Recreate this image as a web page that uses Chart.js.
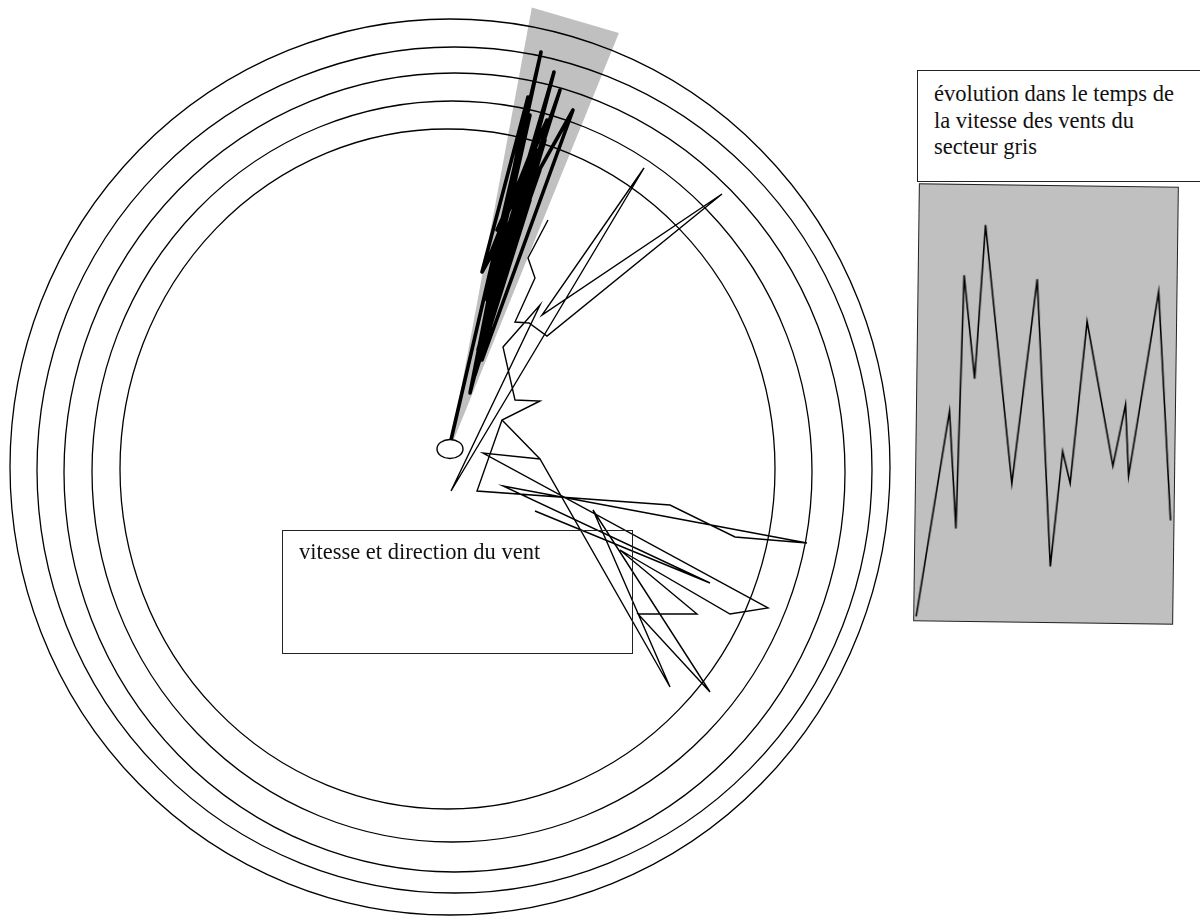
<!DOCTYPE html>
<html>
<head>
<meta charset="utf-8">
<title>vitesse et direction du vent</title>
<script src="https://cdn.jsdelivr.net/npm/chart.js"></script>
<style>
    body { margin: 0; background: #fff; width: 1200px; height: 916px; overflow: hidden; position: relative; }
    #rose { position: absolute; left: 0; top: 0; }
    .boite { position: absolute; box-sizing: border-box; border: 1.5px solid #222; font-family: "Liberation Serif", "Times New Roman", serif; font-size: 22.5px; line-height: 26.7px; color: #111; }
    #legendeRose { left: 282px; top: 530px; width: 351px; height: 124px; padding: 8px 0 0 16px; background: transparent; }
    #legendeSecteur { left: 917px; top: 70px; width: 320px; height: 112px; padding: 10px 0 0 16px; background: #fff; }
    #cadreSecteur { position: absolute; left: 916px; top: 185px; width: 260px; height: 438px; box-sizing: border-box; border: 1.5px solid #222; background: #c0c0c0; transform: rotate(0.75deg); }
    #cadreSecteur canvas { position: absolute; left: 0; top: 0; }
</style>
</head>
<body>
<canvas id="rose" width="1200" height="916"></canvas>
<div class="boite" id="legendeRose">vitesse et direction du vent</div>
<div class="boite" id="legendeSecteur">évolution dans le temps de<br>la vitesse des vents du<br>secteur gris</div>
<div id="cadreSecteur"><canvas id="courbe" width="257" height="435"></canvas></div>
<script>
"use strict";

// vent : composante est (u) et nord (v), meme unite que les cercles
let ventGrisU = [0.1, 9.1, 3.7, 10.4, 2.0, 7.8, 3.2, 12.3, 3.2, 8.7, 3.8, 9.7, 4.7, 8.3, 3.4, 9.0, 5.5, 9.5, 2.5, 8.0, 5.0, 8.5,
    3.8, 9.5, 2.8, 11.0, 4.0, 7.5, 2.2, 8.8, 4.5, 8.0];
let ventGrisV = [0.9, 39.7, 14.9, 37.7, 5.6, 35.2, 17.7, 33.9, 8.9, 31.2, 18.9, 32.9, 21.9, 28.9, 11.9, 27.9, 23.4, 30.9, 7.4, 24.9, 19.9, 26.9,
    11.9, 34.4, 9.9, 35.9, 15.9, 31.9, 6.4, 29.9, 17.9, 33.4];

let ventU = [8.5, 26.0, 5.3, 35.7, 28.5, 22.0, 2.7, 5.2, 9.0, 6.5, 5.3, 9.0, 0.1, 19.4, 9.2, 27.2, 9.7, 7.9, 6.5, 8.5, 7.8, 9.8];
let ventV = [-6.2, -13.4, -3.7, -9.4, -8.8, -5.6, -4.2, 2.9, 4.8, 4.9, 10.2, 14.4, -4.2, 28.1, 13.4, 25.5, 11.3, 12.6, 12.7, 17.1, 19.1, 22.9];

let ventSudU = [5.2, 9.0, 22.0, 14.3, 26.0, 18.8, 24.7, 17.0, 28.0, 31.8, 3.3, 9.0];
let ventSudV = [2.9, -1.0, -23.8, -6.1, -24.3, -16.5, -16.5, -10.1, -16.5, -15.9, -0.4, -1.0];

// cercles de vitesse
let cercleU = [-0.25, 0.2, 0.45, 0.45, 0.0];
let cercleV = [-2.0, -2.25, -2.35, -2.1, -1.8];
let cercleRayonU = [32.75, 36.0, 39.05, 41.75, 44.0];
let cercleRayonV = [34.0, 37.05, 39.95, 42.3, 44.8];

// secteur gris (degres depuis le nord)
let secteurDe = 10.5;
let secteurA = 22.1;
let secteurPortee = 44.9;

// evolution dans le temps du secteur gris
let temps = [0.2, 3.3, 4.1, 4.6, 5.8, 6.7, 9.7, 12.0, 13.7, 14.8, 15.6, 17.1, 19.9, 21.1, 21.5, 24.3, 25.8];
let vitesses = [0.3, 21.0, 9.2, 34.7, 24.3, 39.8, 13.8, 34.4, 5.5, 17.1, 13.9, 30.2, 15.7, 21.9, 14.7, 33.3, 10.3];

function punti(us, vs) {
    let out = [];
    for (let i = 0; i < us.length; i++)
        out.push({x: us[i], y: vs[i]});
    return out;
}

let decorRose = {
    id: "decorRose",
    beforeDatasetsDraw(chart) {
        let ctx = chart.ctx;
        let sx = chart.scales.x, sy = chart.scales.y;
        ctx.save();
        ctx.fillStyle = "#c0c0c0";
        ctx.beginPath();
        ctx.moveTo(sx.getPixelForValue(0), sy.getPixelForValue(0));
        for (const a of [secteurDe, secteurA]) {
            let r = a * Math.PI / 180;
            ctx.lineTo(sx.getPixelForValue(secteurPortee * Math.sin(r)), sy.getPixelForValue(secteurPortee * Math.cos(r)));
        }
        ctx.closePath();
        ctx.fill();

        ctx.strokeStyle = "#000";
        ctx.lineWidth = 1.3;
        for (let i = 0; i < cercleU.length; i++) {
            let cx = sx.getPixelForValue(cercleU[i]);
            let cy = sy.getPixelForValue(cercleV[i]);
            let rx = sx.getPixelForValue(cercleU[i] + cercleRayonU[i]) - cx;
            let ry = cy - sy.getPixelForValue(cercleV[i] + cercleRayonV[i]);
            ctx.beginPath();
            ctx.ellipse(cx, cy, rx, ry, 0, 0, 2 * Math.PI);
            ctx.stroke();
        }
        ctx.restore();
    },
    afterDatasetsDraw(chart) {
        let ctx = chart.ctx;
        let sx = chart.scales.x, sy = chart.scales.y;
        let cx = sx.getPixelForValue(0), cy = sy.getPixelForValue(0);
        ctx.save();
        ctx.beginPath();
        ctx.ellipse(cx, cy, sx.getPixelForValue(1.3) - cx, cy - sy.getPixelForValue(0.95), 0, 0, 2 * Math.PI);
        ctx.fillStyle = "#fff";
        ctx.fill();
        ctx.strokeStyle = "#000";
        ctx.lineWidth = 1.4;
        ctx.stroke();
        ctx.restore();
    }
};

window.onload = function () {
    let trait = {showLine: true, pointRadius: 0, borderColor: "#000", fill: false, tension: 0};

    new Chart(document.getElementById("rose"), {
        type: "scatter",
        data: {
            datasets: [
                Object.assign({label: "vent", data: punti(ventU, ventV), borderWidth: 1.4}, trait),
                Object.assign({label: "vent sud", data: punti(ventSudU, ventSudV), borderWidth: 1.4}, trait),
                Object.assign({label: "secteur gris", data: punti(ventGrisU, ventGrisV), borderWidth: 3.6,
                    borderCapStyle: "round", borderJoinStyle: "round"}, trait)
            ]
        },
        options: {
            responsive: false,
            animation: false,
            layout: {padding: 0},
            plugins: {legend: {display: false}, tooltip: {enabled: false}},
            scales: {
                x: {type: "linear", display: false, min: -45, max: 75},
                y: {type: "linear", display: false, min: -46.7, max: 44.9}
            }
        },
        plugins: [decorRose]
    });

    new Chart(document.getElementById("courbe"), {
        type: "scatter",
        data: {
            datasets: [
                Object.assign({label: "vitesse", data: punti(temps, vitesses), borderWidth: 1.6}, trait)
            ]
        },
        options: {
            responsive: false,
            animation: false,
            layout: {padding: 0},
            plugins: {legend: {display: false}, tooltip: {enabled: false}},
            scales: {
                x: {type: "linear", display: false, min: 0, max: 26},
                y: {type: "linear", display: false, min: 0, max: 43.8}
            }
        }
    });
};
</script>
</body>
</html>
